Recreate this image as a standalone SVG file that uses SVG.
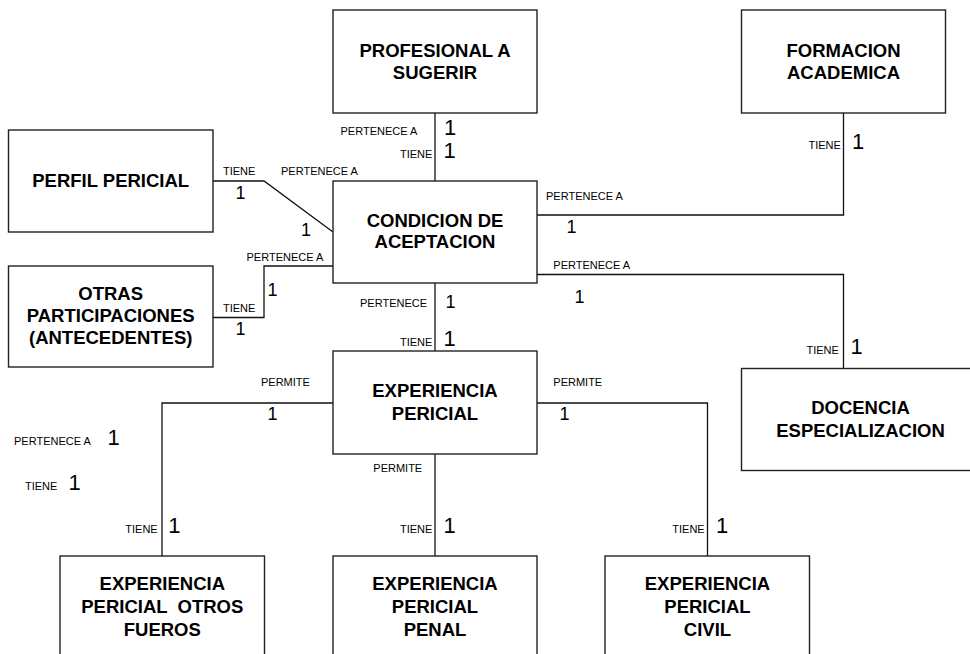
<svg xmlns="http://www.w3.org/2000/svg" width="970" height="654" viewBox="0 0 970 654">
<style>
.box{fill:#fff;stroke:#222;stroke-width:1.4}
.t{font-family:"Liberation Sans",Arial,sans-serif;font-weight:bold;font-size:18.5px;fill:#000;text-anchor:middle;white-space:pre}
.l{font-family:"Liberation Sans",Arial,sans-serif;font-size:11px;fill:#000}
.n{font-family:"Liberation Sans",Arial,sans-serif;font-size:22px;fill:#000}
.m{font-family:"Liberation Sans",Arial,sans-serif;font-size:18px;fill:#000}
.c{fill:none;stroke:#111;stroke-width:1.3}
</style>
<rect width="970" height="654" fill="#fff"/>
<g id="connectors">
<polyline class="c" points="435,113 435,181"/>
<polyline class="c" points="843.5,113 843.5,215 537,215"/>
<polyline class="c" points="213,181 264,181 333,232"/>
<polyline class="c" points="213,317.5 264,317.5 264,266 333,266"/>
<polyline class="c" points="537,274.5 843.5,274.5 843.5,368"/>
<polyline class="c" points="435,283 435,351"/>
<polyline class="c" points="333,403 162,403 162,556"/>
<polyline class="c" points="435,454 435,556"/>
<polyline class="c" points="537,403 707.5,403 707.5,556"/>
</g>
<g id="labels">
<text class="l" x="340.5" y="135">PERTENECE A</text>
<text class="n" x="444" y="135">1</text>
<text class="l" x="400" y="157.7">TIENE</text>
<text class="n" x="443.5" y="158.3">1</text>
<text class="l" x="223" y="175">TIENE</text>
<text class="l" x="281" y="175">PERTENECE A</text>
<text class="m" x="235.5" y="199.3">1</text>
<text class="m" x="301" y="236">1</text>
<text class="l" x="246.5" y="260.7">PERTENECE A</text>
<text class="m" x="267.5" y="296">1</text>
<text class="l" x="223" y="311.7">TIENE</text>
<text class="m" x="235.5" y="335">1</text>
<text class="l" x="360" y="307.3">PERTENECE</text>
<text class="m" x="445.5" y="308.3">1</text>
<text class="l" x="400" y="345.7">TIENE</text>
<text class="n" x="443.5" y="346">1</text>
<text class="l" x="808.5" y="149">TIENE</text>
<text class="n" x="852" y="149.3">1</text>
<text class="l" x="546" y="200">PERTENECE A</text>
<text class="m" x="566.5" y="233.3">1</text>
<text class="l" x="553.3" y="269">PERTENECE A</text>
<text class="m" x="574.5" y="302.7">1</text>
<text class="l" x="806.5" y="354">TIENE</text>
<text class="n" x="850.5" y="354">1</text>
<text class="l" x="261" y="386">PERMITE</text>
<text class="m" x="267.5" y="420">1</text>
<text class="l" x="14" y="445">PERTENECE A</text>
<text class="n" x="107.5" y="445">1</text>
<text class="l" x="25" y="490">TIENE</text>
<text class="n" x="68.5" y="490">1</text>
<text class="l" x="125.3" y="533.3">TIENE</text>
<text class="n" x="168.3" y="533.3">1</text>
<text class="l" x="373.3" y="472.3">PERMITE</text>
<text class="l" x="400" y="533.3">TIENE</text>
<text class="n" x="443.5" y="533.3">1</text>
<text class="l" x="553.3" y="386">PERMITE</text>
<text class="m" x="559.5" y="420">1</text>
<text class="l" x="672.3" y="533.3">TIENE</text>
<text class="n" x="716" y="533.3">1</text>
</g>
<g id="profesional">
<rect class="box" x="333" y="10" width="204" height="103"/>
<text class="t" x="435" y="57.3">PROFESIONAL A</text>
<text class="t" x="435" y="79">SUGERIR</text>
</g>
<g id="formacion">
<rect class="box" x="741.5" y="10" width="204" height="103"/>
<text class="t" x="843.5" y="57.3">FORMACION</text>
<text class="t" x="843.5" y="79">ACADEMICA</text>
</g>
<g id="perfil">
<rect class="box" x="8.5" y="130" width="204.5" height="102"/>
<text class="t" x="110.7" y="186.7">PERFIL PERICIAL</text>
</g>
<g id="condicion">
<rect class="box" x="333" y="181" width="204" height="102"/>
<text class="t" x="435" y="226.7">CONDICION DE</text>
<text class="t" x="435" y="248.3">ACEPTACION</text>
</g>
<g id="otras">
<rect class="box" x="8.5" y="266" width="204.5" height="101"/>
<text class="t" x="110.7" y="300">OTRAS</text>
<text class="t" x="110.7" y="322">PARTICIPACIONES</text>
<text class="t" x="110.7" y="344">(ANTECEDENTES)</text>
</g>
<g id="experiencia-pericial">
<rect class="box" x="333" y="351" width="204" height="103"/>
<text class="t" x="435" y="397.3">EXPERIENCIA</text>
<text class="t" x="435" y="420">PERICIAL</text>
</g>
<g id="docencia">
<rect class="box" x="741.5" y="368.5" width="245" height="102"/>
<text class="t" x="860.5" y="414">DOCENCIA</text>
<text class="t" x="860.5" y="436.7">ESPECIALIZACION</text>
</g>
<g id="otros-fueros">
<rect class="box" x="60" y="556" width="204.5" height="110"/>
<text class="t" x="162.3" y="590">EXPERIENCIA</text>
<text class="t" x="162.3" y="613">PERICIAL  OTROS</text>
<text class="t" x="162.3" y="636">FUEROS</text>
</g>
<g id="penal">
<rect class="box" x="333" y="556" width="204" height="110"/>
<text class="t" x="435" y="590">EXPERIENCIA</text>
<text class="t" x="435" y="613">PERICIAL</text>
<text class="t" x="435" y="636">PENAL</text>
</g>
<g id="civil">
<rect class="box" x="605" y="556" width="204.5" height="110"/>
<text class="t" x="707.5" y="590">EXPERIENCIA</text>
<text class="t" x="707.5" y="613">PERICIAL</text>
<text class="t" x="707.5" y="636">CIVIL</text>
</g>
</svg>
